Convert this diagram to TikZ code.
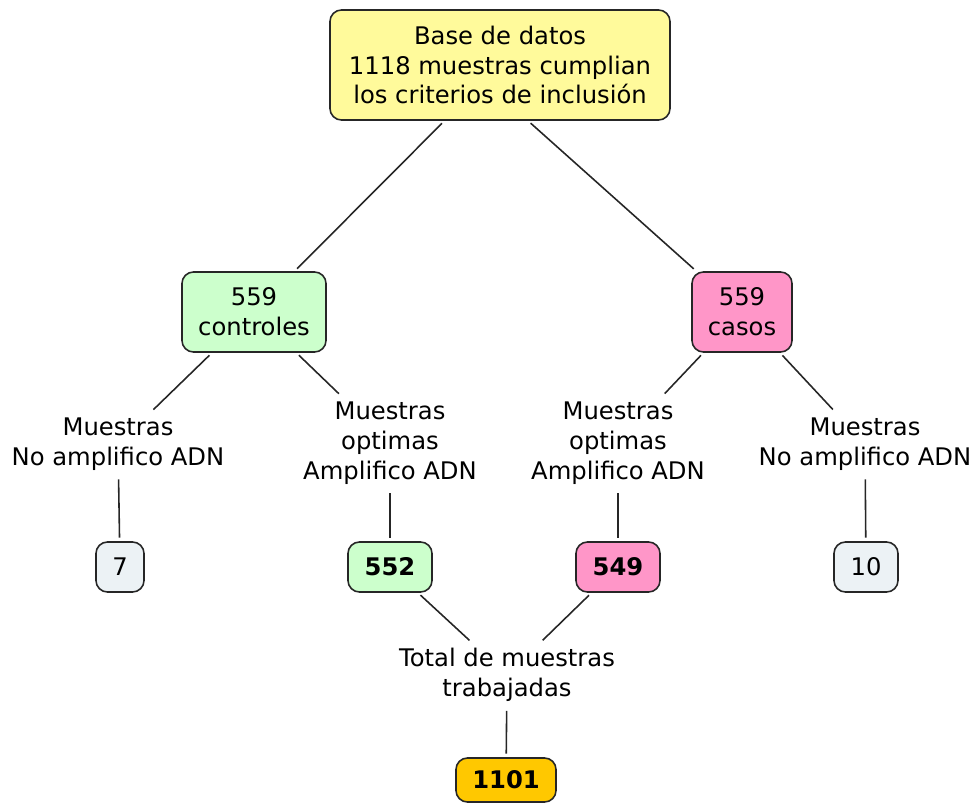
\documentclass[tikz,border=0pt]{standalone}
\usepackage{fontspec}
\setmainfont{DejaVu Sans}
\definecolor{cyellow}{RGB}{255,250,155}
\definecolor{cgreen}{RGB}{204,255,204}
\definecolor{cpink}{RGB}{255,150,200}
\definecolor{cgray}{RGB}{236,242,245}
\definecolor{corange}{RGB}{255,200,0}
\tikzset{
  cbox/.style={draw=black!85, line width=0.9pt, rounded corners=6.5pt, align=center, inner sep=0pt},
  clabel/.style={align=center, inner sep=3pt},
  clink/.style={black!85, line width=0.9pt, shorten >=2pt, shorten <=2pt}
}

\begin{document}
\begin{tikzpicture}[x=0.02cm, y=-0.02cm, font=\fontsize{13.8}{17}\selectfont]
\useasboundingbox (0,0) rectangle (978,805);

\node[cbox, fill=cyellow, minimum width=340*0.02cm, minimum height=110*0.02cm] (base) at (500,65) {Base de datos\\1118 muestras cumplian\\los criterios de inclusión}; %top
\coordinate (basec) at (485,65);

\node[cbox, fill=cgreen, minimum width=144*0.02cm, minimum height=80*0.02cm] (ctrl) at (254,312) {559\\controles};
\node[cbox, fill=cpink, minimum width=100*0.02cm, minimum height=80*0.02cm] (casos) at (742,312) {559\\casos};

\node[clabel] (ctrlno) at (118,444) {Muestras\\No amplifico ADN};
\node[clabel] (ctrlok) at (390,443) {Muestras\\optimas\\Amplifico ADN};
\node[clabel] (casosok) at (618,443) {Muestras\\optimas\\Amplifico ADN};
\node[clabel] (casosno) at (865,444) {Muestras\\No amplifico ADN};

\node[cbox, fill=cgray, minimum width=48*0.02cm, minimum height=50*0.02cm] (n7) at (120,567) {7};
\node[cbox, fill=cgreen, minimum width=84*0.02cm, minimum height=50*0.02cm] (n552) at (390,567) {\bfseries 552};
\node[cbox, fill=cpink, minimum width=84*0.02cm, minimum height=50*0.02cm] (n549) at (618,567) {\bfseries 549};
\node[cbox, fill=cgray, minimum width=64*0.02cm, minimum height=50*0.02cm] (n10) at (866,567) {10};

\node[clabel] (total) at (507,675) {Total de muestras\\trabajadas};
\node[cbox, fill=corange, minimum width=100*0.02cm, minimum height=44*0.02cm] (n1101) at (506,780) {\bfseries 1101};

% links
\draw[clink] (base) -- (ctrl);
\draw[clink] (base.south -| 528,0) -- (casos);
\draw[clink] (ctrl) -- (ctrlno);
\draw[clink] (ctrl) -- (ctrlok);
\draw[clink] (casos) -- (casosok);
\draw[clink] (casos) -- (casosno);
\draw[clink] (ctrlno) -- (n7);
\draw[clink] (ctrlok) -- (n552);
\draw[clink] (casosok) -- (n549);
\draw[clink] (casosno) -- (n10);
\draw[clink] (n552) -- (total);
\draw[clink] (n549) -- (total);
\draw[clink] (total) -- (n1101);

\end{tikzpicture}
\end{document}
